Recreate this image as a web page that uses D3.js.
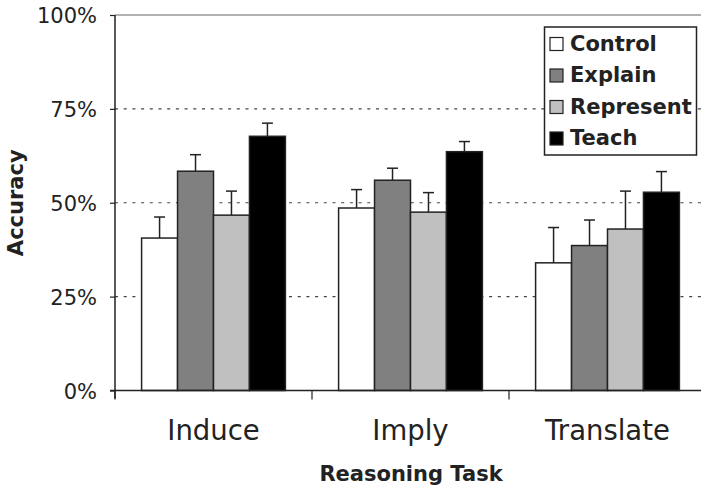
<!DOCTYPE html>
<html>
<head>
<meta charset="utf-8">
<script src="https://cdn.jsdelivr.net/npm/d3@7"></script>
<style>
  body { margin: 0; background: #fff; }
  text { font-family: "DejaVu Sans", Verdana, sans-serif; fill: #222; }
</style>
</head>
<body>
<div id="chart"></div>
<script>
// data
const tasks = ["Induce", "Imply", "Translate"];
const conditions = ["Control", "Explain", "Represent", "Teach"];
const colors = ["#ffffff", "#808080", "#c0c0c0", "#000000"];
// mean accuracy per condition, one value per task
const control   = [0.406, 0.486, 0.340];
const explain   = [0.584, 0.560, 0.386];
const represent = [0.467, 0.475, 0.430];
const teach     = [0.677, 0.636, 0.528];
// top of the error bar
const controlErr   = [0.462, 0.535, 0.434];
const explainErr   = [0.628, 0.592, 0.454];
const representErr = [0.531, 0.527, 0.531];
const teachErr     = [0.712, 0.663, 0.583];
const yTicks = [0, 0.25, 0.5, 0.75, 1];

const means = [control, explain, represent, teach];
const errs = [controlErr, explainErr, representErr, teachErr];

const svgWidth = 701;
const svgHeight = 487;
const plotLeft = 115, plotTop = 15, plotBottom = 390.5;
const step = 197;

const svg = d3.select("#chart")
  .append("svg")
  .attr("width", svgWidth)
  .attr("height", svgHeight);

const x = d3.scaleBand()
  .domain(tasks)
  .range([plotLeft, plotLeft + step * tasks.length])
  .paddingInner(0.27)
  .paddingOuter(0.135);

const xInner = d3.scaleBand()
  .domain(conditions)
  .range([0, x.bandwidth()]);

const y = d3.scaleLinear()
  .domain([0, 1])
  .range([plotBottom, plotTop]);

// plot top border
svg.append("line")
  .attr("x1", plotLeft).attr("x2", svgWidth)
  .attr("y1", y(1)).attr("y2", y(1))
  .attr("stroke", "#999").attr("stroke-width", 1.5);

// dotted grid lines
svg.append("g")
  .selectAll("line")
  .data(yTicks.filter(d => d > 0 && d < 1))
  .join("line")
  .attr("x1", plotLeft).attr("x2", svgWidth)
  .attr("y1", d => y(d)).attr("y2", d => y(d))
  .attr("stroke", "#444")
  .attr("stroke-width", 1.2)
  .attr("stroke-dasharray", "3,5.7");

// bars
const rows = [];
tasks.forEach((t, i) => {
  conditions.forEach((c, j) => {
    rows.push({ task: t, cond: c, color: colors[j], v: means[j][i], e: errs[j][i] });
  });
});

const bars = svg.append("g");

// error bars (drawn first so the bar outline sits on top)
const eb = bars.selectAll(".err")
  .data(rows)
  .join("g")
  .attr("class", "err")
  .attr("stroke", "#222")
  .attr("stroke-width", 1.5);
eb.append("line")
  .attr("x1", d => x(d.task) + xInner(d.cond) + xInner.bandwidth() / 2)
  .attr("x2", d => x(d.task) + xInner(d.cond) + xInner.bandwidth() / 2)
  .attr("y1", d => y(d.v))
  .attr("y2", d => y(d.e));
eb.append("line")
  .attr("x1", d => x(d.task) + xInner(d.cond) + xInner.bandwidth() / 2 - 5.5)
  .attr("x2", d => x(d.task) + xInner(d.cond) + xInner.bandwidth() / 2 + 5.5)
  .attr("y1", d => y(d.e))
  .attr("y2", d => y(d.e));

bars.selectAll("rect")
  .data(rows)
  .join("rect")
  .attr("x", d => x(d.task) + xInner(d.cond))
  .attr("y", d => y(d.v))
  .attr("width", xInner.bandwidth())
  .attr("height", d => y(0) - y(d.v))
  .attr("fill", d => d.color)
  .attr("stroke", "#222")
  .attr("stroke-width", 1.5);

// y axis
const yAxis = svg.append("g")
  .attr("transform", `translate(${plotLeft},0)`)
  .call(d3.axisLeft(y).tickValues(yTicks).tickFormat(d3.format(".0%")).tickSize(5).tickPadding(13));
yAxis.select(".domain").attr("stroke", "#222").attr("stroke-width", 1.5)
  .attr("d", `M0,${y(1)}V${y(0) + 8}`);
yAxis.selectAll(".tick line").attr("stroke", "#222").attr("stroke-width", 1.2);
yAxis.selectAll(".tick text")
  .style("font-size", "21px")
  .attr("dy", "0.36em")
  .attr("fill", "#2a2a2a");

// x axis
const xAxis = svg.append("g")
  .attr("transform", `translate(0,${plotBottom})`)
  .call(d3.axisBottom(x).tickSize(0).tickPadding(30));
xAxis.select(".domain").attr("stroke", "#222").attr("stroke-width", 1.5)
  .attr("d", `M${plotLeft - 5},0H${svgWidth}`);
xAxis.selectAll(".tick text")
  .style("font-size", "27.5px")
  .attr("fill", "#1a1a1a");

// ticks between task groups
xAxis.selectAll(".bound")
  .data(tasks)
  .join("line")
  .attr("class", "bound")
  .attr("x1", (d, i) => x.range()[0] + i * x.step())
  .attr("x2", (d, i) => x.range()[0] + i * x.step())
  .attr("y1", 0).attr("y2", 9)
  .attr("stroke", "#222").attr("stroke-width", 1.2);

// axis titles
svg.append("text")
  .attr("x", 411)
  .attr("y", 481)
  .attr("text-anchor", "middle")
  .style("font-size", "21px")
  .style("font-weight", "bold")
  .text("Reasoning Task");

svg.append("text")
  .attr("transform", `translate(23,${(y(0) + y(1)) / 2}) rotate(-90)`)
  .attr("text-anchor", "middle")
  .style("font-size", "21px")
  .style("font-weight", "bold")
  .text("Accuracy");

// legend
const legend = svg.append("g");
legend.append("rect")
  .attr("x", 544.5).attr("y", 27)
  .attr("width", 152).attr("height", 128)
  .attr("fill", "#fff")
  .attr("stroke", "#222")
  .attr("stroke-width", 1.5);

const item = legend.selectAll(".item")
  .data(conditions)
  .join("g")
  .attr("class", "item")
  .attr("transform", (d, i) => `translate(550,${50.5 + i * 31.5})`);
item.append("rect")
  .attr("x", 0).attr("y", -13)
  .attr("width", 13).attr("height", 13)
  .attr("fill", (d, i) => colors[i])
  .attr("stroke", "#222")
  .attr("stroke-width", 1.2);
item.append("text")
  .attr("x", 20)
  .attr("y", 0)
  .style("font-size", "21px")
  .style("font-weight", "bold")
  .text(d => d);
</script>
</body>
</html>
